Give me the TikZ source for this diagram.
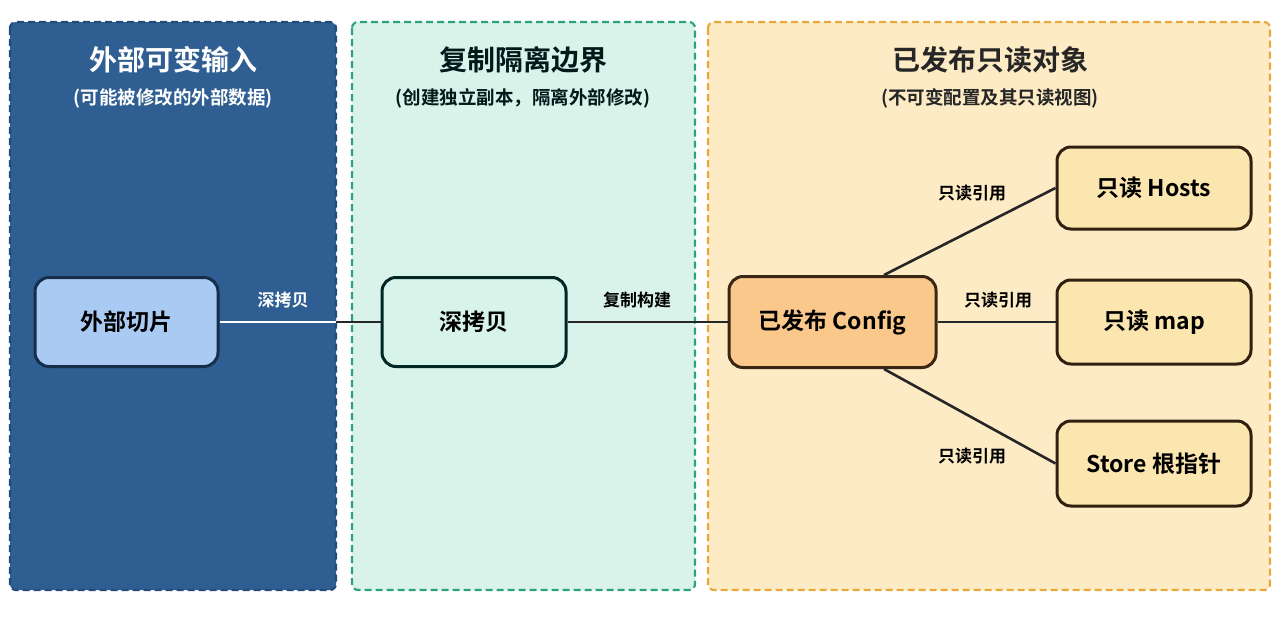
\documentclass[tikz,border=0pt]{standalone}
\usepackage{fontspec}
\setmainfont{Noto Sans CJK SC}
\newfontfamily\cjkb{Noto Sans CJK SC Bold}
\begin{document}
\begin{tikzpicture}[x=1pt,y=-1pt,
  panel/.style={draw,line width=2.2pt,dash pattern=on 7pt off 4pt,rounded corners=6pt},
  box/.style={draw,line width=3pt,rounded corners=14pt,font=\cjkb\fontsize{23}{27}\selectfont},
  lbl/.style={font=\cjkb\fontsize{17}{20}\selectfont},
  ln/.style={line width=2.6pt,draw=black!85}]
\definecolor{lb}{HTML}{2F5E92}\definecolor{lbd}{HTML}{244C7A}
\definecolor{mg}{HTML}{D9F2EA}\definecolor{mgd}{HTML}{2BA37A}
\definecolor{ry}{HTML}{FCEBC4}\definecolor{ryd}{HTML}{E8A93A}
\useasboundingbox (0,0) rectangle (1280,640);
\fill[white] (0,0) rectangle (1280,640);
\draw[panel,fill=lb,draw=lbd] (10,22) rectangle (336,590);
\draw[panel,fill=mg,draw=mgd] (352,22) rectangle (695,590);
\draw[panel,fill=ry,draw=ryd] (708,22) rectangle (1270,590);
\node[text=white,font=\cjkb\fontsize{28}{32}\selectfont] (t1) at (173,60) {外部可变输入};
\node[text=white,font=\cjkb\fontsize{18.5}{22}\selectfont] (s1) at (173,98) {(可能被修改的外部数据)};
\node[text=black!80!teal,font=\cjkb\fontsize{28}{32}\selectfont] (t2) at (523,60) {复制隔离边界};
\node[text=black!80!teal,font=\cjkb\fontsize{18.5}{22}\selectfont] (s2) at (523,98) {(创建独立副本，隔离外部修改)};
\node[text=black!85,font=\cjkb\fontsize{28}{32}\selectfont] (t3) at (990,60) {已发布只读对象};
\node[text=black!85,font=\cjkb\fontsize{18.5}{22}\selectfont] (s3) at (990,98) {(不可变配置及其只读视图)};
\node[box,draw=lbd!60!black,minimum width=183pt,minimum height=89pt,fill={rgb,255:red,169;green,203;blue,243}] (a) at (126.5,322) {外部切片};
\node[box,fill={rgb,255:red,215;green,243;blue,234},draw=black!70!teal,minimum width=184pt,minimum height=89pt] (b) at (474,322) {深拷贝};
\node[box,fill={rgb,255:red,249;green,200;blue,138},draw=black!70!brown,minimum width=207pt,minimum height=91pt] (c) at (832.5,322) {已发布 Config};
\node[box,fill={rgb,255:red,252;green,230;blue,176},draw=black!75!brown,minimum width=194pt,minimum height=82pt] (h) at (1154,188) {只读 Hosts};
\node[box,fill={rgb,255:red,252;green,230;blue,176},draw=black!75!brown,minimum width=194pt,minimum height=84pt] (m) at (1154,322) {只读 map};
\node[box,fill={rgb,255:red,252;green,230;blue,176},draw=black!75!brown,minimum width=194pt,minimum height=85pt] (s) at (1154,463.5) {Store 根指针};
\coordinate (edge) at (336,322);
\draw[line width=2.6pt,white] (a) -- (edge);
\draw[ln] (edge) -- (b);
\draw[ln] (b) -- (c);
\draw[ln] (884,275) -- (h.west);
\draw[ln] (c) -- (m);
\draw[ln] (884,369) -- (s.west);
\node[lbl,text=white] (l1) at (283,300) {深拷贝};
\node[lbl] (l2) at (637,300) {复制构建};
\node[lbl] (l3) at (972,193) {只读引用};
\node[lbl] (l4) at (998,300) {只读引用};
\node[lbl] (l5) at (972,456) {只读引用};
\end{tikzpicture}
\end{document}
